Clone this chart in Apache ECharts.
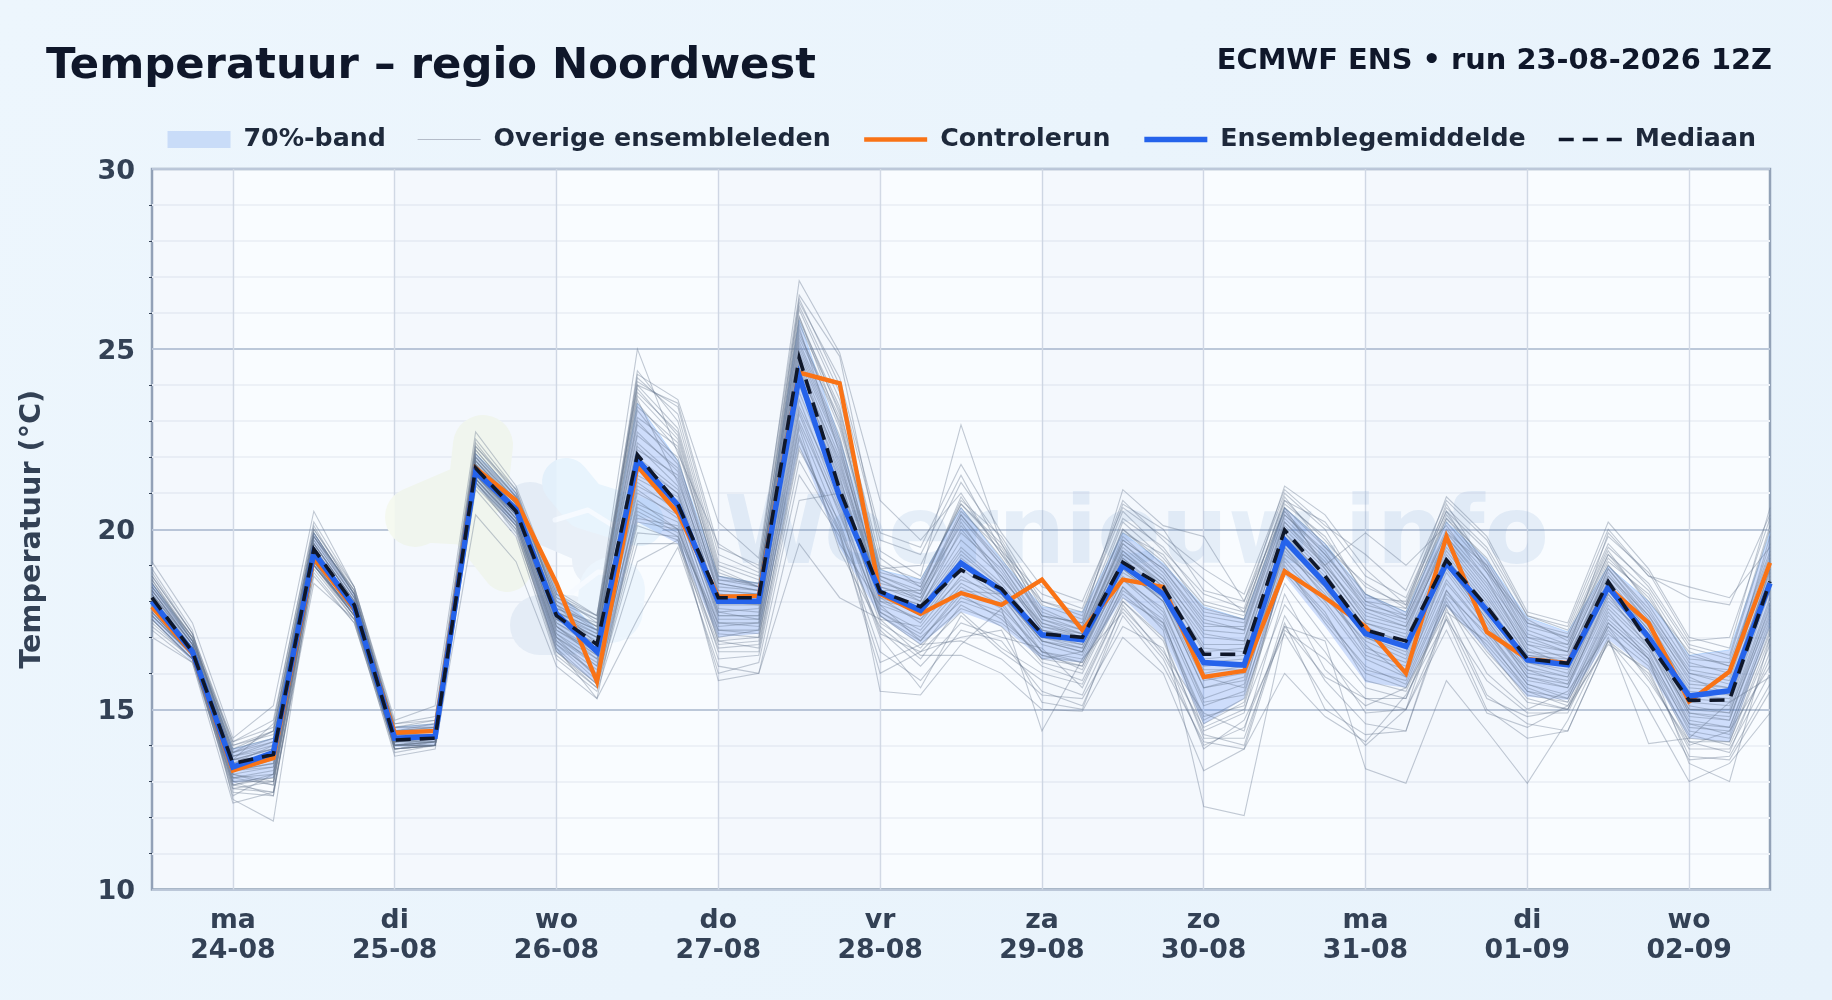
<!DOCTYPE html>
<html><head><meta charset="utf-8">
<style>html,body{margin:0;padding:0;width:1832px;height:1000px;overflow:hidden;background:#e9f3fc}#c{width:1832px;height:1000px}</style>
<script src="https://cdn.jsdelivr.net/npm/echarts@6/dist/echarts.min.js"></script>
</head><body><div id="c"></div>
<script>
const categories=['23-08 12','23-08 18','24-08 00','24-08 06','24-08 12','24-08 18','25-08 00','25-08 06','25-08 12','25-08 18','26-08 00','26-08 06','26-08 12','26-08 18','27-08 00','27-08 06','27-08 12','27-08 18','28-08 00','28-08 06','28-08 12','28-08 18','29-08 00','29-08 06','29-08 12','29-08 18','30-08 00','30-08 06','30-08 12','30-08 18','31-08 00','31-08 06','31-08 12','31-08 18','01-09 00','01-09 06','01-09 12','01-09 18','02-09 00','02-09 06','02-09 12'];
const dayNames=['ma','di','wo','do','vr','za','zo','ma','di','wo'];
const dayDates=['24-08','25-08','26-08','27-08','28-08','29-08','30-08','31-08','01-09','02-09'];
const shadedDays=[['23-08 12','24-08 00'],['25-08 00','26-08 00'],['27-08 00','28-08 00'],['29-08 00','30-08 00'],['31-08 00','01-09 00']];
const control=[17.85,16.55,13.3,13.65,19.2,17.8,14.35,14.4,21.7,20.8,18.5,15.77,21.75,20.45,18.13,18.15,24.35,24.05,18.2,17.65,18.23,17.9,18.6,17.2,18.6,18.4,15.9,16.07,18.83,18.1,17.3,16.0,19.8,17.15,16.4,16.28,18.4,17.4,15.22,16.05,19.07];
const mean=[18.0,16.6,13.4,13.8,19.35,17.85,14.2,14.25,21.6,20.55,17.65,16.6,21.93,20.67,18.0,18.0,24.25,20.9,18.25,17.75,19.06,18.3,17.07,16.93,19.0,18.2,16.3,16.23,19.7,18.5,17.1,16.75,19.06,17.75,16.37,16.24,18.4,17.0,15.37,15.52,18.5];
const median=[18.1,16.6,13.5,13.75,19.45,17.9,14.15,14.2,21.7,20.5,17.6,16.8,22.07,20.7,18.1,18.1,24.76,21.1,18.27,17.85,18.87,18.35,17.1,17.0,19.08,18.4,16.53,16.53,19.98,18.7,17.2,16.9,19.15,17.85,16.4,16.28,18.55,16.85,15.25,15.26,18.55];
const bandLow=[17.5,16.3,12.95,13.1,19.0,17.6,13.95,14.0,21.2,20.1,16.6,15.7,20.2,19.6,17.0,17.1,22.3,19.5,17.57,16.8,17.7,17.3,16.4,16.3,18.1,17.0,14.58,15.3,18.7,17.3,15.75,15.6,17.85,16.65,15.35,15.26,16.93,16.1,14.2,14.1,17.3];
const bandHigh=[18.5,16.9,13.9,14.2,19.9,18.2,14.5,14.6,22.1,21.0,18.3,17.2,23.5,21.9,18.7,18.5,25.8,22.5,18.87,18.6,20.6,19.15,17.85,17.7,19.9,19.05,17.85,17.5,20.6,19.6,18.2,17.7,20.2,19.15,17.55,17.15,18.97,18.0,16.5,16.65,19.9];
const members=[
[19.1,17.4,14.2,15.1,20.5,18.4,14.7,15.1,22.7,21.2,18.3,17.6,25.0,22.1,19.6,18.9,26.9,24.9,20.8,19.7,21.0,19.3,18.0,17.7,20.5,19.4,18.2,17.8,21.2,20.4,18.9,17.9,20.9,19.8,17.7,17.4,20.2,18.9,17.0,16.7,20.6],
[17.0,16.3,12.4,12.7,18.5,17.5,13.7,13.9,20.4,19.1,16.2,15.3,17.5,19.5,16.2,16.0,19.6,18.1,17.5,16.5,16.5,16.0,15.0,14.95,17.0,16.0,13.3,13.9,16.0,14.8,14.1,15.4,17.5,15.0,14.2,14.4,16.9,15.0,13.0,13.5,14.9],
[18.9,17.2,12.5,11.9,19.1,17.9,14.6,14.7,22.4,21.0,17.9,16.8,24.3,23.6,20.2,19.2,26.5,24.8,19.4,18.7,22.9,19.6,17.6,17.4,21.1,20.1,19.8,18.0,20.5,19.0,19.9,19.0,20.1,18.6,17.0,16.6,19.9,18.7,18.4,18.1,19.5],
[17.5,16.4,12.7,12.6,18.8,17.4,13.9,14.0,21.3,19.9,16.7,15.3,20.5,19.9,15.8,16.0,20.8,21.0,15.5,15.4,16.8,17.8,14.4,16.4,17.7,16.4,14.0,14.5,17.3,16.9,13.35,12.95,15.8,14.4,12.95,14.7,17.0,14.05,14.2,15.2,15.9],
[18.3,16.9,14.1,14.7,20.1,18.2,14.5,14.6,22.2,20.9,18.0,17.3,24.1,23.4,19.3,18.8,25.9,22.9,18.9,19.0,21.3,19.7,17.8,17.3,20.2,19.2,17.9,17.6,20.9,19.5,18.5,17.8,20.7,18.9,17.5,16.9,19.3,18.0,16.6,16.2,18.3],
[17.9,16.7,13.2,12.9,19.0,17.7,14.0,14.1,21.6,20.3,17.1,16.2,21.0,20.4,16.9,17.0,22.6,19.6,17.9,16.9,18.3,18.2,16.6,16.1,18.4,17.2,12.3,12.05,17.2,16.4,15.3,15.0,18.3,16.7,15.3,15.0,17.4,16.4,13.5,13.0,17.0],
[18.5,17.0,13.8,14.2,19.8,18.3,14.4,14.5,22.0,20.8,17.5,17.0,23.1,22.3,18.6,18.5,25.4,23.1,18.5,18.2,20.4,19.1,17.6,17.2,19.6,18.6,17.2,17.1,20.4,19.3,17.9,17.6,20.2,18.9,16.9,16.6,19.0,17.7,16.1,15.9,19.8],
[17.7,16.5,13.0,13.1,19.1,17.6,13.9,14.0,21.4,20.2,16.9,15.9,20.8,20.0,17.2,17.1,23.2,20.4,17.7,17.0,18.0,17.6,16.4,16.2,18.6,17.6,15.1,15.5,18.8,17.5,16.2,15.7,18.2,17.1,15.7,15.3,17.6,16.6,14.4,14.2,17.2],
[18.2,16.8,13.6,13.9,19.6,18.0,14.2,14.3,21.8,20.6,17.7,17.1,22.6,21.7,18.4,18.3,24.9,22.3,18.4,18.1,19.9,18.9,17.2,16.9,19.4,18.4,16.7,16.6,20.1,19.0,17.6,17.3,19.6,18.2,16.5,16.4,18.8,17.4,15.7,15.6,18.6],
[17.6,16.5,13.1,12.9,19.0,17.7,14.0,14.1,21.5,20.3,17.0,15.9,20.4,19.8,17.4,17.3,23.6,20.7,17.6,16.8,17.8,17.4,16.5,16.3,18.2,17.3,14.6,15.2,18.9,17.7,15.8,15.5,17.9,16.8,15.5,15.1,17.3,16.3,14.1,14.1,16.8],
[18.7,17.1,14.0,14.4,20.0,18.3,14.5,14.5,22.3,21.0,18.2,17.4,24.0,22.8,18.9,18.4,26.1,23.6,19.2,18.4,20.8,19.8,18.0,17.6,20.7,20.0,18.3,18.0,21.0,20.0,18.1,18.0,20.5,19.4,17.4,17.1,19.6,18.4,16.7,16.4,20.0],
[17.3,16.4,12.9,12.7,18.9,17.5,13.9,14.0,21.2,20.0,16.5,15.6,19.6,19.6,16.7,16.8,22.3,20.0,17.2,16.2,17.4,17.0,16.7,15.6,18.0,16.9,14.3,14.0,17.6,15.8,14.6,14.4,17.6,15.3,14.8,15.0,16.9,16.0,13.9,13.9,16.0],
[18.4,16.9,13.7,14.1,19.8,18.1,14.3,14.4,21.9,20.7,17.8,17.3,23.6,21.3,18.3,18.2,25.6,22.1,18.6,18.0,20.2,18.6,17.4,17.0,19.7,18.9,17.5,17.2,20.6,18.9,17.4,17.1,19.8,18.4,16.7,16.2,18.9,17.5,15.9,15.4,18.9],
[17.8,16.6,13.3,13.4,19.3,17.8,14.1,14.2,21.6,20.4,17.3,16.5,21.5,20.9,17.6,17.6,24.1,21.4,18.1,17.4,18.9,18.1,16.8,16.5,18.9,18.0,15.6,15.8,19.4,18.2,16.7,16.3,18.9,17.4,15.9,15.7,18.1,16.9,14.8,14.7,17.7],
[18.0,16.7,13.4,13.6,19.4,17.9,14.1,14.2,21.7,20.5,17.4,16.7,22.0,21.1,17.8,17.7,24.5,21.7,18.2,17.6,19.2,18.3,17.0,16.7,19.1,18.2,16.0,16.2,19.7,18.5,17.0,16.6,19.2,17.7,16.2,15.9,18.4,17.1,15.0,15.0,18.1],
[18.6,16.9,13.9,14.4,19.9,18.2,14.4,14.4,22.1,20.9,18.1,17.5,23.9,22.6,18.7,18.4,25.8,23.4,18.8,18.5,20.7,19.5,17.7,17.3,20.0,19.0,17.8,17.5,20.7,19.8,18.2,17.7,20.4,19.1,17.2,16.8,19.2,18.1,16.4,16.3,19.4],
[17.4,16.4,12.8,13.0,19.0,17.6,13.9,14.0,21.3,20.1,16.6,15.7,20.1,19.7,16.8,16.9,22.9,20.1,17.0,15.6,17.6,16.6,15.8,15.4,17.8,16.6,14.9,14.4,18.2,16.1,15.1,15.6,18.0,16.0,15.0,15.5,17.1,16.2,14.3,14.0,16.4],
[18.3,16.8,13.5,14.0,19.7,18.1,14.2,14.3,21.9,20.6,17.6,17.1,23.3,21.9,18.5,18.3,25.2,22.6,18.3,18.3,20.1,18.8,17.3,17.1,19.3,18.5,17.0,16.9,20.3,19.2,17.8,17.4,19.9,18.6,16.6,16.5,18.7,17.6,16.0,15.7,18.8],
[17.6,16.5,12.9,13.2,19.1,17.6,14.0,14.0,21.4,20.2,16.8,16.0,20.7,20.2,17.0,17.2,23.0,20.5,17.4,16.7,18.1,17.7,16.3,16.0,18.3,17.5,14.4,14.9,19.0,17.4,16.0,15.6,17.7,16.9,15.6,15.2,17.5,16.5,14.6,14.3,17.4],
[18.8,17.1,13.6,14.6,20.2,18.4,14.6,14.8,22.5,21.1,17.9,17.2,24.4,23.0,19.0,18.6,26.4,24.0,19.7,19.3,21.5,19.4,18.2,17.8,20.8,19.7,18.6,17.7,20.8,20.2,18.7,18.1,20.6,19.5,17.6,17.2,19.8,18.8,16.9,17.0,20.3],
[17.9,16.6,13.2,13.0,19.2,17.7,14.0,14.1,21.5,20.3,17.0,16.3,21.2,20.6,17.3,17.4,23.4,21.0,17.8,17.2,18.5,17.9,16.6,16.4,18.7,17.7,15.3,15.7,19.2,18.0,16.5,16.1,18.6,17.2,15.8,15.6,17.9,16.8,14.6,14.5,17.5],
[18.1,16.7,13.4,13.8,19.5,17.9,14.2,14.2,21.7,20.5,17.5,16.9,22.4,21.4,18.0,18.0,24.7,22.0,18.2,17.9,19.5,18.5,17.1,16.8,19.2,18.3,16.3,16.4,19.9,18.8,17.2,16.9,19.4,18.0,16.3,16.1,18.5,17.2,15.3,15.2,18.4],
[18.4,17.0,14.0,14.3,19.9,18.2,14.4,14.5,22.0,20.8,18.0,17.5,23.7,22.5,18.7,18.5,25.7,23.3,19.0,18.6,20.6,19.2,17.5,17.1,19.8,18.8,17.3,17.3,20.5,19.3,18.0,17.5,19.9,19.0,17.1,16.7,19.1,18.2,16.3,16.0,19.2],
[17.7,16.5,13.0,12.6,19.1,17.6,13.9,14.1,21.4,20.1,16.8,15.8,20.3,20.1,16.9,16.7,22.5,19.9,16.6,15.8,17.2,16.9,15.5,15.1,17.6,16.2,14.1,13.9,17.4,15.0,14.3,14.4,17.8,15.4,14.6,14.4,16.9,15.6,13.6,13.7,15.7],
[18.2,16.8,13.3,13.5,19.4,17.9,14.2,14.3,21.8,20.5,17.2,16.6,21.8,21.0,17.7,17.5,24.3,21.5,17.5,17.3,18.7,18.0,16.4,16.6,18.8,18.1,15.9,15.6,19.5,18.3,16.8,15.9,19.0,17.5,16.0,15.8,18.2,17.0,14.9,14.7,17.9],
[18.0,16.7,13.6,13.7,19.6,18.0,14.3,14.3,21.7,20.6,17.6,17.0,22.9,22.0,18.2,18.1,25.0,22.4,18.0,17.8,20.0,18.7,17.2,16.9,19.5,18.6,16.8,16.8,20.2,19.1,17.5,17.2,19.7,18.3,16.6,16.3,18.6,17.3,15.6,15.5,18.7],
[17.8,16.6,13.1,13.3,19.3,17.8,14.0,14.2,21.5,20.4,17.3,16.4,21.4,20.8,17.5,17.5,24.0,21.2,17.9,17.5,18.6,18.2,16.9,16.6,18.9,18.0,15.8,16.0,19.3,18.4,16.6,16.2,18.8,17.3,16.1,15.7,18.0,17.0,14.9,14.8,17.6],
[18.6,17.0,13.9,14.2,19.8,18.3,14.4,14.4,22.1,20.8,17.8,17.4,23.5,22.2,18.6,18.4,25.5,22.8,18.7,18.2,20.5,19.4,17.5,17.2,20.0,19.1,17.6,17.4,20.6,19.6,18.0,17.8,20.3,19.2,17.3,17.0,19.4,17.9,16.2,16.1,19.6],
[17.5,16.4,13.0,13.0,19.0,17.6,13.9,14.0,21.3,20.0,16.6,15.6,19.9,19.8,16.4,16.5,21.9,19.9,16.0,16.6,17.0,17.2,15.2,15.0,17.9,16.5,14.5,15.0,17.9,16.6,14.9,15.0,17.5,15.8,14.9,14.9,17.2,15.9,14.0,14.4,16.2],
[18.3,16.8,13.7,13.9,19.6,18.0,14.3,14.3,21.8,20.6,17.7,17.2,23.0,21.8,18.3,18.2,25.1,22.5,18.4,18.0,20.3,19.0,17.3,17.0,19.6,18.7,17.1,16.9,20.2,19.0,17.7,17.3,19.8,18.5,16.8,16.4,18.9,17.6,15.8,15.6,18.9],
[18.0,16.6,13.3,13.6,19.3,17.8,14.1,14.1,21.6,20.3,17.2,16.5,21.7,20.7,17.6,17.6,24.2,21.3,18.0,17.5,19.0,18.2,16.9,16.7,19.0,18.0,15.6,15.9,19.5,18.1,16.9,16.4,19.0,17.5,15.9,15.6,18.2,16.7,15.0,14.9,17.8],
[18.5,17.0,13.8,14.4,19.9,18.2,14.4,14.6,22.2,20.9,18.1,17.6,24.2,23.2,19.1,18.7,26.2,23.8,18.9,18.4,20.7,19.6,17.9,17.5,20.3,19.5,18.0,17.7,20.8,19.7,18.4,17.9,20.5,18.8,17.4,17.0,19.5,18.5,16.8,16.5,20.1],
[17.6,16.5,12.6,13.2,19.0,17.5,14.0,14.0,21.4,20.2,16.9,16.1,20.6,20.0,17.1,17.0,22.8,19.4,17.3,16.4,17.9,17.3,16.2,15.8,18.1,17.4,14.7,15.3,18.5,17.0,15.6,15.3,18.1,16.6,15.4,15.2,17.4,16.4,14.2,14.1,17.0],
[18.2,16.7,13.5,13.8,19.5,17.9,14.2,14.2,21.8,20.6,17.5,16.8,22.2,21.5,17.9,17.9,24.6,21.8,18.3,17.8,19.4,18.4,17.0,16.8,19.3,18.4,16.4,16.5,19.8,18.7,17.3,16.8,19.3,17.9,16.4,16.2,18.5,17.2,15.4,15.3,18.5],
[17.8,16.6,13.2,13.4,19.2,17.7,14.1,14.1,21.5,20.4,17.1,16.4,21.3,20.5,17.4,17.4,23.8,21.1,17.7,17.1,18.4,17.8,16.6,16.3,18.6,17.8,15.2,15.4,19.1,17.9,16.4,15.9,18.5,17.2,15.7,15.4,17.8,16.7,14.7,14.5,17.3],
[18.7,17.1,14.1,14.5,20.0,18.4,14.5,14.7,22.3,21.1,18.2,17.6,24.0,23.5,19.5,19.0,26.3,24.2,19.9,19.5,21.8,19.9,18.4,18.0,20.6,19.8,18.9,18.2,21.1,20.1,19.3,18.3,20.8,19.7,17.6,17.3,20.0,18.7,18.1,17.9,20.4],
[17.2,16.3,12.8,12.7,18.7,17.4,13.8,14.0,21.1,19.8,16.4,15.5,19.1,19.7,16.0,16.3,21.5,19.8,16.3,16.8,16.9,16.4,15.4,15.3,17.3,16.7,13.9,14.7,17.1,15.3,14.0,15.0,17.2,14.9,14.5,15.1,16.8,16.1,13.7,13.6,15.5],
[18.1,16.7,13.4,13.7,19.5,17.9,14.1,14.2,21.7,20.5,17.4,16.8,22.3,21.2,18.0,17.9,24.4,21.9,18.1,17.7,19.3,18.4,17.0,16.9,19.2,18.2,16.2,16.3,19.9,18.6,17.1,16.9,19.2,17.8,16.3,16.0,18.4,17.1,15.2,15.1,18.3],
[18.4,16.9,13.7,14.0,19.7,18.1,14.3,14.4,21.9,20.7,17.7,17.2,23.4,22.4,18.5,18.3,25.3,23.0,18.6,18.1,20.4,19.0,17.4,17.1,19.7,18.9,17.4,17.2,20.4,19.4,17.8,17.5,20.0,18.8,16.8,16.6,19.0,17.8,16.0,15.8,19.1],
[17.7,16.5,13.1,13.2,19.2,17.7,14.0,14.1,21.5,20.2,17.0,16.2,21.1,20.3,17.2,17.2,23.3,20.6,17.6,16.9,18.2,17.5,16.5,16.2,18.4,17.4,14.8,15.1,18.9,17.6,16.1,15.8,18.3,17.0,15.5,15.3,17.7,16.4,14.5,14.4,17.1],
[18.0,16.7,13.3,13.5,19.4,17.9,14.1,14.3,21.6,20.4,17.3,16.6,21.9,21.0,17.7,17.8,24.3,21.6,18.2,17.6,19.1,18.3,16.9,16.6,19.1,18.1,16.1,16.1,19.6,18.4,17.0,16.5,19.1,17.6,16.1,15.9,18.3,17.0,15.1,14.9,18.0],
[18.5,16.9,13.8,14.1,19.8,18.2,14.3,14.4,22.0,20.7,17.9,17.3,23.8,22.7,18.8,18.4,25.9,23.2,18.7,18.3,20.9,19.3,17.6,17.4,19.9,19.3,17.7,17.5,20.6,19.5,18.2,17.6,20.3,19.0,17.0,16.8,19.3,18.3,16.5,16.2,19.3],
[17.5,16.4,12.9,13.1,19.0,17.6,14.0,14.0,21.3,20.1,16.7,15.7,20.2,20.0,16.6,16.6,22.2,20.2,17.1,16.6,17.7,16.7,16.0,15.7,18.0,17.0,14.2,14.2,17.3,15.9,15.3,15.3,17.9,16.5,15.2,15.0,17.3,15.8,14.1,13.8,16.6],
[18.3,16.8,13.6,13.9,19.6,18.0,14.2,14.3,21.8,20.6,17.6,17.0,22.7,21.6,18.2,18.1,24.8,22.2,18.3,17.9,19.7,18.7,17.2,17.0,19.4,18.5,16.6,16.7,20.0,18.9,17.4,17.0,19.5,18.1,16.5,16.3,18.7,17.4,15.5,15.4,18.6]
];
const titleText='Temperatuur – regio Noordwest';
const subtitleText='ECMWF ENS • run 23-08-2026 12Z';
const yAxisTitle='Temperatuur (°C)';
const watermarkText='Weernieuw.info';

const FONT='"DejaVu Sans"';
const isDay=i=>i%4===2;
const noSym={type:'line',symbol:'none',silent:true,animation:false};
const N_BAND='70%-band',N_MEM='Overige ensembleleden',N_CTRL='Controlerun',N_MEAN='Ensemblegemiddelde',N_MED='Mediaan';
const series=[
 {...noSym,name:'_base',stack:'band',data:bandLow,lineStyle:{width:0,opacity:0},z:3,
  markArea:{silent:true,animation:false,label:{show:false},itemStyle:{color:'rgba(110,140,205,0.03)',borderWidth:0},
   data:shadedDays.map(d=>[{xAxis:d[0]},{xAxis:d[1]}])}},
 {...noSym,name:N_BAND,stack:'band',data:bandHigh.map((h,i)=>+(h-bandLow[i]).toFixed(3)),lineStyle:{width:1,color:'rgba(147,197,253,0.55)'},areaStyle:{color:'rgba(37,99,235,0.2)',opacity:1},itemStyle:{color:'#c9dcf8'},z:3},
 ...members.map(m=>({...noSym,name:N_MEM,data:m,lineStyle:{width:1.1,color:'rgba(100,116,139,0.38)',join:'miter'},itemStyle:{color:'#b4bcc9'},z:4})),
 {...noSym,name:N_CTRL,data:control,lineStyle:{width:4.4,color:'#f97316',join:'miter'},itemStyle:{color:'#f97316'},z:5},
 {...noSym,name:N_MEAN,data:mean,lineStyle:{width:5.5,color:'#2563eb',join:'miter'},itemStyle:{color:'#2563eb'},z:6},
 {...noSym,name:N_MED,data:median,lineStyle:{width:3.6,color:'#0f172a',type:[15,9],join:'miter'},itemStyle:{color:'#0f172a'},z:7}
];
const blob=(pts,w,c)=>({type:'polyline',z:1,silent:true,shape:{points:pts},style:{stroke:c,lineWidth:w,lineCap:'round',lineJoin:'round',fill:null}});
const noMark={color:'transparent',borderWidth:0};
const option={
 animation:false,
 backgroundColor:{type:'linear',x:0,y:0,x2:1,y2:1,colorStops:[{offset:0,color:'#edf6fd'},{offset:1,color:'#e7f2fb'}]},
 textStyle:{fontFamily:FONT},
 title:[
  {text:titleText,left:41,top:40,textStyle:{fontFamily:FONT,fontWeight:'bold',fontSize:43.3,color:'#0f172a'}},
  {text:subtitleText,right:55,top:41.5,textStyle:{fontFamily:FONT,fontWeight:'bold',fontSize:28.85,color:'#0f172a'}}
 ],
 legend:{right:76,top:127,itemWidth:63,itemHeight:17,itemGap:31.2,padding:0,
  itemStyle:noMark,lineStyle:{width:'inherit'},
  textStyle:{fontFamily:FONT,fontWeight:'bold',fontSize:25.3,color:'#1e293b',padding:[0,0,0,8]},
  data:[{name:N_BAND,icon:'rect',itemStyle:{color:'#c9dcf8'}},{name:N_MEM,lineStyle:{color:'#b4bcc9'}},{name:N_CTRL},{name:N_MEAN},{name:N_MED}]},
 grid:{left:152,right:62,top:169,bottom:110.5,containLabel:false,show:true,backgroundColor:'#f9fcff',borderColor:'#93a2b7',borderWidth:2.5},
 xAxis:{type:'category',data:categories,boundaryGap:false,
  axisLine:{show:false},axisTick:{show:false},
  axisLabel:{interval:(i)=>isDay(i),hideOverlap:false,margin:17,fontFamily:FONT,fontWeight:'bold',fontSize:26.7,lineHeight:29.5,color:'#334155',
   formatter:(v)=>{const k=categories.indexOf(v);const d=(k-2)/4;return dayNames[d]+'\n'+dayDates[d];}},
  splitLine:{show:true,interval:(i)=>isDay(i),lineStyle:{color:'#d2d9e5',width:1.4}}
 },
 yAxis:{type:'value',min:10,max:30,interval:5,
  name:yAxisTitle,nameLocation:'middle',nameGap:105,nameTextStyle:{fontFamily:FONT,fontWeight:'bold',fontSize:28.7,color:'#334155'},
  axisLine:{show:false},axisTick:{show:false},
  minorTick:{show:true,splitNumber:5,length:3,lineStyle:{color:'#334155',width:1}},
  axisLabel:{margin:17,fontFamily:FONT,fontWeight:'bold',fontSize:27,color:'#334155',verticalAlign:'top',lineHeight:5},
  splitLine:{show:true,lineStyle:{color:'#bcc8d9',width:2}},
  minorSplitLine:{show:true,lineStyle:{color:'#edf1f7',width:2}}
 },
 graphic:{elements:[
  blob([[483,445],[478,490],[415,517]],60,'#f5f9f0'),
  blob([[415,517],[470,520],[507,567]],50,'#f5f9f0'),
  blob([[530,510],[600,540],[600,560]],56,'#e9f0f8'),
  blob([[540,625],[568,625]],60,'#e9f0f8'),
  blob([[566,482],[585,505],[640,522]],48,'#e8f4fd'),
  blob([[612,590],[610,610]],66,'#ecf5fd'),
  blob([[555,520],[588,510],[612,525],[650,520]],5,'#f6faff'),
  blob([[572,592],[598,572],[625,575]],5,'#f6faff'),
  {type:'text',z:1,silent:true,x:724,y:539,style:{text:watermarkText,font:'bold 94px "DejaVu Sans"',verticalAlign:'middle',fill:'rgba(90,140,195,0.12)'}}
 ]},
 series
};
const chart=echarts.init(document.getElementById('c'),null,{renderer:'canvas'});
chart.setOption(option);
</script></body></html>
